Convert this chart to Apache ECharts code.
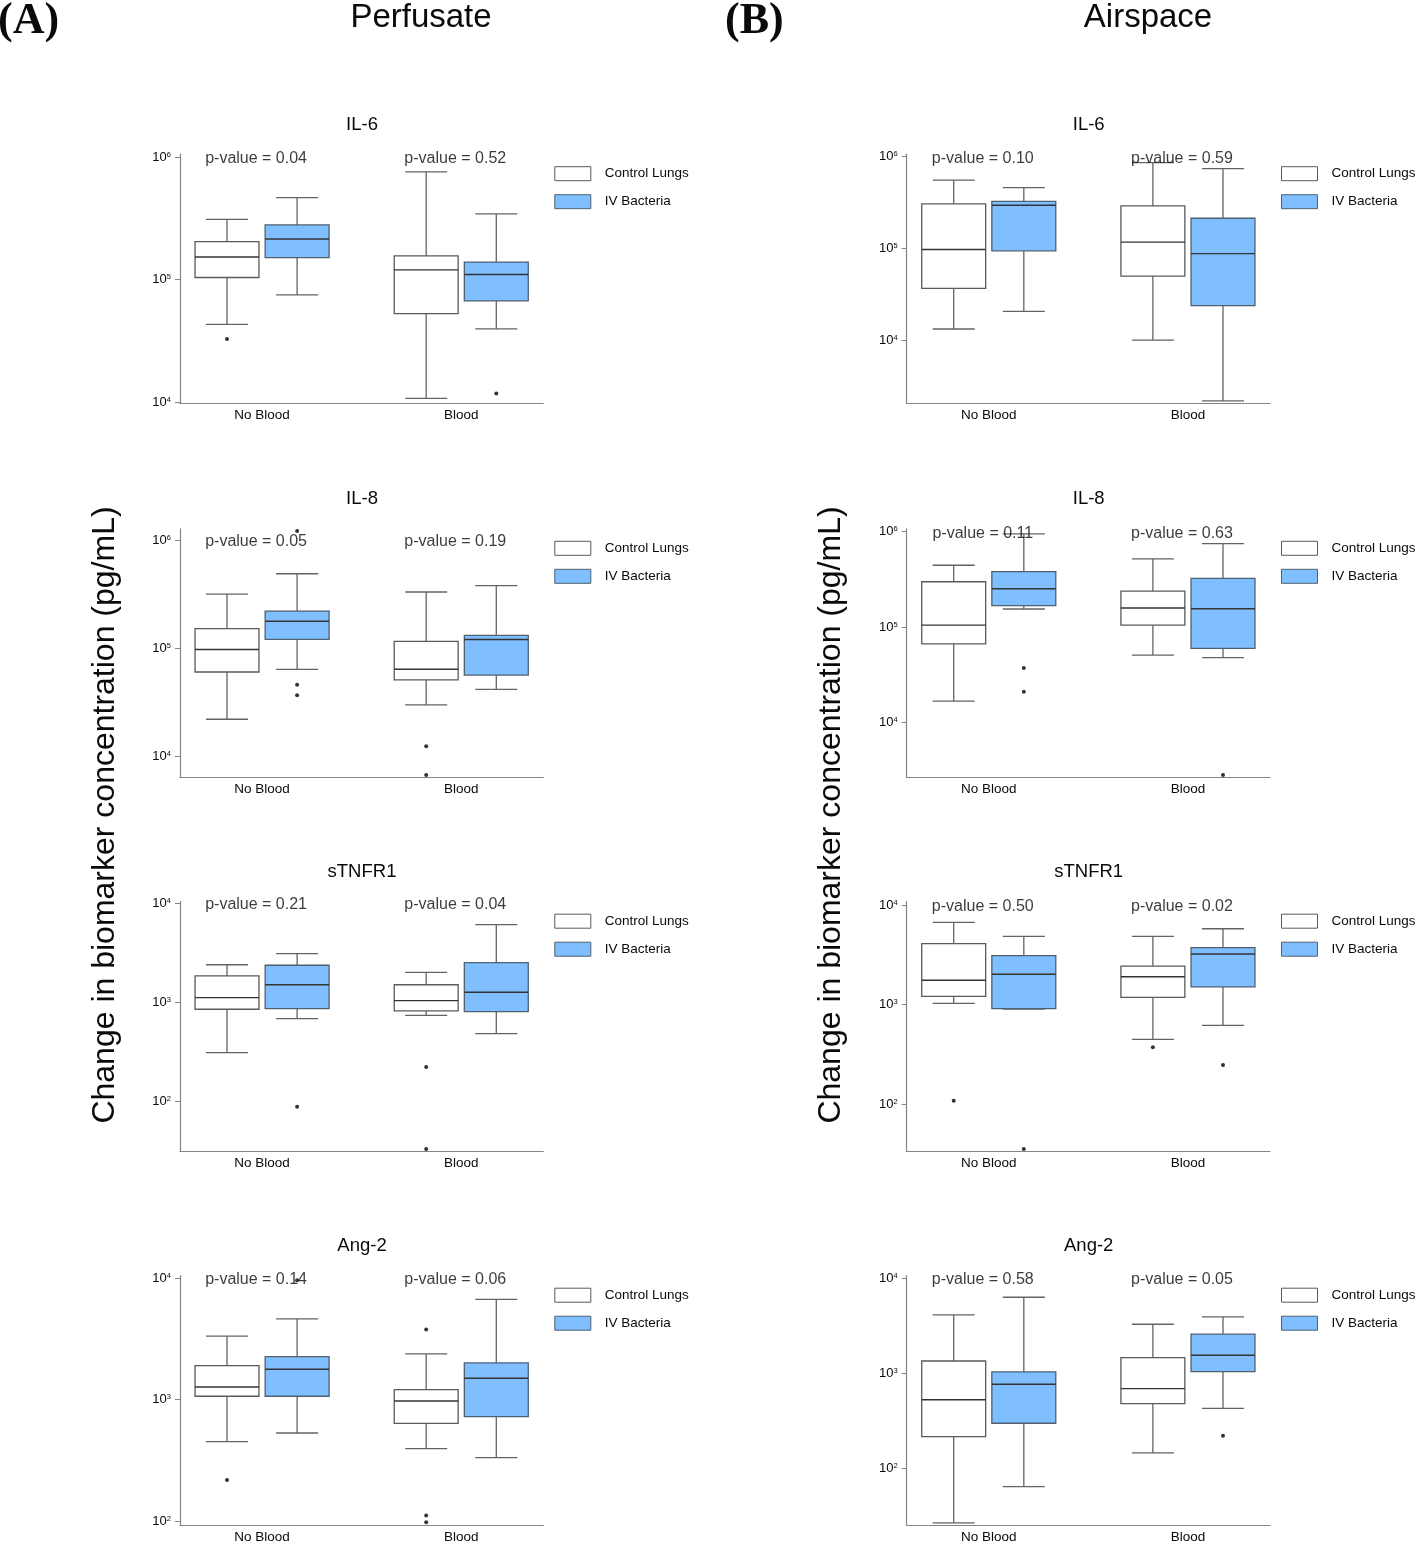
<!DOCTYPE html>
<html><head><meta charset="utf-8">
<script src="https://cdn.jsdelivr.net/npm/echarts@6/dist/echarts.min.js"></script>
<style>html,body{margin:0;padding:0;background:#fff}#chart{width:1418px;height:1544px}</style>
</head><body><div id="chart"></div>
<script>
// ---------------- DATA ----------------
const groups = ['No Blood', 'Blood'];
const seriesNames = ['Control Lungs', 'IV Bacteria'];
const markers = ['IL-6', 'IL-8', 'sTNFR1', 'Ang-2'];
const panelTitles = ['Perfusate', 'Airspace'];
const panelLetters = ['(A)', '(B)'];
const yTitle = 'Change in biomarker concentration (pg/mL)';

// box stats per group: [lower whisker, Q1, median, Q3, upper whisker]
// Perfusate
const perf_IL6_ctrl = [[4.3e4, 1.04e5, 1.53e5, 2.04e5, 3.11e5], [1.07e4, 5.27e4, 1.2e5, 1.56e5, 7.6e5]];
const perf_IL6_iv   = [[7.5e4, 1.51e5, 2.15e5, 2.8e5, 4.68e5], [3.95e4, 6.7e4, 1.1e5, 1.39e5, 3.44e5]];
const perf_IL8_ctrl = [[2.19e4, 6.0e4, 9.7e4, 1.51e5, 3.16e5], [2.97e4, 5.08e4, 6.35e4, 1.15e5, 3.3e5]];
const perf_IL8_iv   = [[6.35e4, 1.2e5, 1.77e5, 2.2e5, 4.87e5], [4.14e4, 5.62e4, 1.2e5, 1.31e5, 3.78e5]];
const perf_TNF_ctrl = [[308, 847, 1110, 1840, 2390], [736, 815, 1035, 1500, 2000]];
const perf_TNF_iv   = [[681, 859, 1500, 2360, 3090], [480, 802, 1260, 2505, 6080]];
const perf_ANG_ctrl = [[450, 1066, 1270, 1905, 3330], [394, 638, 975, 1208, 2380]];
const perf_ANG_iv   = [[531, 1066, 1780, 2260, 4620], [333, 725, 1500, 2005, 6710]];
// outliers per group
const perf_IL6_out_ctrl = [[3.27e4], []];
const perf_IL6_out_iv   = [[], [1.17e4]];
const perf_IL8_out_ctrl = [[], [1.23e4, 6670]];
const perf_IL8_out_iv   = [[1.21e6, 4.57e4, 3.65e4], []];
const perf_TNF_out_ctrl = [[], [221, 32.7]];
const perf_TNF_out_iv   = [[87.5], []];
const perf_ANG_out_ctrl = [[218], [3780, 111, 97.5]];
const perf_ANG_out_iv   = [[9630], []];
// Airspace
const air_IL6_ctrl = [[1.32e4, 3.66e4, 9.7e4, 3.05e5, 5.56e5], [1.0e4, 4.99e4, 1.17e5, 2.9e5, 8.6e5]];
const air_IL6_iv   = [[2.05e4, 9.4e4, 2.95e5, 3.26e5, 4.6e5], [2170, 2.37e4, 8.75e4, 2.13e5, 7.4e5]];
const air_IL8_ctrl = [[1.68e4, 6.67e4, 1.05e5, 2.99e5, 4.45e5], [5.1e4, 1.05e5, 1.59e5, 2.39e5, 5.2e5]];
const air_IL8_iv   = [[1.55e5, 1.68e5, 2.53e5, 3.81e5, 9.5e5], [4.8e4, 6.0e4, 1.56e5, 3.25e5, 7.5e5]];
const air_TNF_ctrl = [[1030, 1213, 1760, 4090, 6700], [450, 1186, 1910, 2440, 4850]];
const air_TNF_iv   = [[906, 912, 2020, 3100, 4850], [621, 1507, 3230, 3730, 5780]];
const air_ANG_ctrl = [[26.7, 215, 527, 1346, 4110], [145, 479, 689, 1459, 3280]];
const air_ANG_iv   = [[64, 298, 766, 1032, 6310], [428, 1040, 1545, 2580, 3920]];
const air_IL6_out_ctrl = [[], []];
const air_IL6_out_iv   = [[], []];
const air_IL8_out_ctrl = [[], []];
const air_IL8_out_iv   = [[3.74e4, 2.11e4], [2830]];
const air_TNF_out_ctrl = [[109], [374]];
const air_TNF_out_iv   = [[35.7], [248]];
const air_ANG_out_ctrl = [[], []];
const air_ANG_out_iv   = [[], [220]];

// p-values (No Blood, Blood)
const perf_pvalues = [['0.04', '0.52'], ['0.05', '0.19'], ['0.21', '0.04'], ['0.14', '0.06']];
const air_pvalues  = [['0.10', '0.59'], ['0.11', '0.63'], ['0.50', '0.02'], ['0.58', '0.05']];
const pvalueY = [1e6, 1e6, 1e4, 1e4];

// y-axis ranges and decade ticks
const perf_yRange = [[9750, 1.059e6], [6353, 1.27e6], [30.7, 10375], [92.7, 10495]];
const air_yRange  = [[2042, 1.064e6], [2679, 1.072e6], [33.6, 10790], [25.3, 10640]];
const perf_ticks = [[1e4, 1e5, 1e6], [1e4, 1e5, 1e6], [1e2, 1e3, 1e4], [1e2, 1e3, 1e4]];
const air_ticks  = [[1e4, 1e5, 1e6], [1e4, 1e5, 1e6], [1e2, 1e3, 1e4], [1e2, 1e3, 1e4]];

// ---------------- LAYOUT / STYLE ----------------
const FONT = '"Liberation Sans", Arial, Helvetica, sans-serif';
const colLeft = [180, 906.7];
const plotW = 363.3;
const rowTop = [154.2, 528.8, 901.7, 1275.7];
const rowBottom = [403.3, 777.3, 1151.7, 1525];
const X_MIN = 0.588, X_MAX = 2.412;
const DODGE = 0.176, BOX_W = 0.321, CAP_W = 0.211;
const FILLS = ['#ffffff', '#80bfff'];
const STROKES = ['#5a5a5a', '#4f6070'];
const AXIS_C = '#858585';
const TXT = '#0a0a0a';

const cols = [
  { ctrl: [perf_IL6_ctrl, perf_IL8_ctrl, perf_TNF_ctrl, perf_ANG_ctrl],
    iv: [perf_IL6_iv, perf_IL8_iv, perf_TNF_iv, perf_ANG_iv],
    outCtrl: [perf_IL6_out_ctrl, perf_IL8_out_ctrl, perf_TNF_out_ctrl, perf_ANG_out_ctrl],
    outIv: [perf_IL6_out_iv, perf_IL8_out_iv, perf_TNF_out_iv, perf_ANG_out_iv],
    p: perf_pvalues, range: perf_yRange, ticks: perf_ticks },
  { ctrl: [air_IL6_ctrl, air_IL8_ctrl, air_TNF_ctrl, air_ANG_ctrl],
    iv: [air_IL6_iv, air_IL8_iv, air_TNF_iv, air_ANG_iv],
    outCtrl: [air_IL6_out_ctrl, air_IL8_out_ctrl, air_TNF_out_ctrl, air_ANG_out_ctrl],
    outIv: [air_IL6_out_iv, air_IL8_out_iv, air_TNF_out_iv, air_ANG_out_iv],
    p: air_pvalues, range: air_yRange, ticks: air_ticks }
];

function makeRenderItem(offset, fill, stroke) {
  return function (params, api) {
    const xc = api.value(0) + offset;
    const lo = api.value(1), q1 = api.value(2), md = api.value(3), q3 = api.value(4), hi = api.value(5);
    const tl = api.coord([xc - BOX_W / 2, q3]);
    const br = api.coord([xc + BOX_W / 2, q1]);
    const mL = api.coord([xc - BOX_W / 2, md]);
    const mR = api.coord([xc + BOX_W / 2, md]);
    const pHi = api.coord([xc, hi]);
    const pLo = api.coord([xc, lo]);
    const pQ3 = api.coord([xc, q3]);
    const pQ1 = api.coord([xc, q1]);
    const cL = api.coord([xc - CAP_W / 2, hi])[0];
    const cR = api.coord([xc + CAP_W / 2, hi])[0];
    const wStyle = { stroke: '#636363', lineWidth: 1.3 };
    return {
      type: 'group',
      children: [
        { type: 'line', shape: { x1: pHi[0], y1: pHi[1], x2: pQ3[0], y2: pQ3[1] }, style: wStyle },
        { type: 'line', shape: { x1: pLo[0], y1: pLo[1], x2: pQ1[0], y2: pQ1[1] }, style: wStyle },
        { type: 'line', shape: { x1: cL, y1: pHi[1], x2: cR, y2: pHi[1] }, style: wStyle },
        { type: 'line', shape: { x1: cL, y1: pLo[1], x2: cR, y2: pLo[1] }, style: wStyle },
        { type: 'rect', shape: { x: tl[0], y: tl[1], width: br[0] - tl[0], height: br[1] - tl[1] },
          style: { fill: fill, stroke: stroke, lineWidth: 1.3 } },
        { type: 'line', shape: { x1: mL[0], y1: mL[1], x2: mR[0], y2: mR[1] },
          style: { stroke: '#333333', lineWidth: 1.4 } }
      ]
    };
  };
}

function yLabel(v) {
  const e = Math.round(Math.log10(v));
  return '{b|10}{s|' + e + '}';
}

const grid = [], xAxis = [], yAxis = [], series = [], legend = [], graphic = [];

cols.forEach((col, c) => {
  markers.forEach((m, r) => {
    const idx = grid.length;
    grid.push({ left: colLeft[c], top: rowTop[r], width: plotW, height: rowBottom[r] - rowTop[r] });
    xAxis.push({
      gridIndex: idx, type: 'value', min: X_MIN, max: X_MAX,
      axisLine: { show: true, onZero: false, lineStyle: { color: AXIS_C, width: 1.2 } },
      axisTick: { show: false }, splitLine: { show: false },
      axisLabel: { customValues: [1, 2], formatter: v => groups[Math.round(v) - 1] || '',
        fontSize: 13.5, fontFamily: FONT, color: TXT, margin: 5 }
    });
    yAxis.push({
      gridIndex: idx, type: 'log', logBase: 10, min: col.range[r][0], max: col.range[r][1],
      axisLine: { show: true, onZero: false, lineStyle: { color: AXIS_C, width: 1.2 } },
      axisTick: { show: true, length: 5, customValues: col.ticks[r], lineStyle: { color: AXIS_C, width: 1 } },
      minorTick: { show: false }, splitLine: { show: false },
      axisLabel: { customValues: col.ticks[r], formatter: yLabel, margin: 9,
        rich: { b: { fontSize: 13, fontFamily: FONT, color: TXT },
                s: { fontSize: 7.5, fontFamily: FONT, color: TXT, verticalAlign: 'top' } } }
    });
    [col.ctrl[r], col.iv[r]].forEach((stats, s) => {
      series.push({
        type: 'custom', name: seriesNames[s], xAxisIndex: idx, yAxisIndex: idx,
        dimensions: ['x', 'lo', 'q1', 'med', 'q3', 'hi'],
        encode: { x: 0, y: [1, 2, 3, 4, 5] },
        itemStyle: { color: FILLS[s], borderColor: STROKES[s], borderWidth: 1 },
        renderItem: makeRenderItem(s === 0 ? -DODGE : DODGE, FILLS[s], STROKES[s]),
        data: stats.map((st, g) => [g + 1].concat(st)),
        z: 2
      });
    });
    [col.outCtrl[r], col.outIv[r]].forEach((outs, s) => {
      const pts = [];
      outs.forEach((list, g) => list.forEach(v => pts.push([g + 1 + (s === 0 ? -DODGE : DODGE), v])));
      series.push({
        type: 'scatter', name: 'outliers', xAxisIndex: idx, yAxisIndex: idx,
        symbol: 'circle', symbolSize: 4, itemStyle: { color: '#000' }, data: pts, z: 3
      });
    });
    series.push({
      type: 'scatter', name: 'pvalues', xAxisIndex: idx, yAxisIndex: idx,
      symbolSize: 1, itemStyle: { color: 'rgba(0,0,0,0)' },
      data: col.p[r].map((p, g) => [g + 1 - 0.03, pvalueY[r], p]),
      label: { show: true, position: 'inside', offset: [0, 1.5],
        formatter: o => 'p-value = ' + o.value[2],
        fontSize: 16, fontFamily: FONT, color: TXT },
      z: 4
    });
    legend.push({
      data: seriesNames, orient: 'vertical', left: colLeft[c] + plotW + 6, top: rowTop[r] + 7,
      itemWidth: 36, itemHeight: 14, itemGap: 13, icon: 'rect', selectedMode: false,
      itemStyle: { borderWidth: 1 },
      textStyle: { fontSize: 13.5, fontFamily: FONT, color: TXT, padding: [0, 0, 0, 9] }
    });
    graphic.push({
      type: 'text', x: colLeft[c] + 182, y: rowTop[r] - 29.5,
      style: { text: m, fontSize: 18.5, fontFamily: FONT, fill: TXT,
        align: 'center', verticalAlign: 'middle', textAlign: 'center', textVerticalAlign: 'middle' }
    });
  });
  graphic.push({
    type: 'text', x: [421, 1148][c], y: 18,
    style: { text: panelTitles[c], fontSize: 33, fontFamily: FONT, fill: TXT,
      align: 'center', verticalAlign: 'middle', textAlign: 'center', textVerticalAlign: 'middle' }
  });
  graphic.push({
    type: 'text', x: [-2, 725][c], y: 22,
    style: { text: panelLetters[c], fontSize: 44, fontWeight: 'bold', fontFamily: '"Liberation Serif", "Times New Roman", serif', fill: TXT,
      align: 'left', verticalAlign: 'middle', textAlign: 'left', textVerticalAlign: 'middle' }
  });
  graphic.push({
    type: 'text', x: [105, 831][c], y: 815, rotation: Math.PI / 2,
    style: { text: yTitle, fontSize: 32, fontFamily: FONT, fill: TXT,
      align: 'center', verticalAlign: 'middle', textAlign: 'center', textVerticalAlign: 'middle' }
  });
});

const chart = echarts.init(document.getElementById('chart'), null, { renderer: 'canvas' });
chart.setOption({
  backgroundColor: '#ffffff',
  animation: false,
  grid, xAxis, yAxis, series, legend, graphic
});
</script>
</body></html>
